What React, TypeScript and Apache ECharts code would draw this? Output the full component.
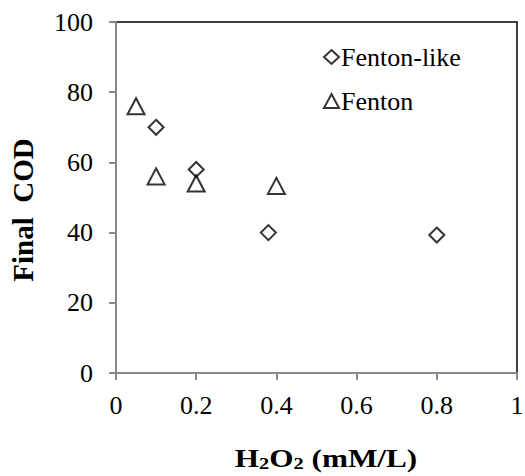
import React, { useEffect, useRef } from "react";
import * as echarts from "echarts";

const fentonLikeX = [0.1, 0.2, 0.38, 0.8];
const fentonLikeY = [70, 58, 40, 39.3];
const fentonX = [0.05, 0.1, 0.2, 0.4];
const fentonY = [76, 56, 54, 53.3];
const seriesNames = ["Fenton-like", "Fenton"];
const xTicks = [0, 0.2, 0.4, 0.6, 0.8, 1];
const yTicks = [0, 20, 40, 60, 80, 100];
const xTitle = "{b|H}{s|2}{b|O}{s|2}{b| (mM/L)}";
const yTitle = "Final  COD";

const FONT = "Liberation Serif";

export default function App() {
  const ref = useRef<HTMLDivElement>(null);
  useEffect(() => {
    if (!ref.current) return;
    const chart = echarts.init(ref.current, undefined, { renderer: "svg" });
    const pair = (xs: number[], ys: number[]) => xs.map((x, i) => [x, ys[i]]);
    chart.setOption({
      animation: false,
      backgroundColor: "#fff",
      textStyle: { fontFamily: FONT },
      grid: {
        left: 116,
        top: 22,
        right: 8,
        bottom: 103,
        show: true,
        containLabel: false,
        outerBoundsMode: "none",
        borderColor: "#000",
        borderWidth: 1.5,
      },
      legend: {
        orient: "vertical",
        left: 318,
        top: 39,
        itemWidth: 15,
        itemHeight: 14,
        itemGap: 18,
        textStyle: { fontFamily: FONT, fontSize: 26, color: "#000", padding: [0, 0, 0, -3] },
        data: seriesNames,
      },
      xAxis: {
        type: "value",
        min: xTicks[0],
        max: xTicks[xTicks.length - 1],
        interval: 0.2,
        splitLine: { show: false },
        axisLine: { show: true, onZero: false, lineStyle: { color: "#888", width: 2 } },
        axisTick: { show: true, length: 7, lineStyle: { color: "#888", width: 2 } },
        axisLabel: {
          fontFamily: FONT,
          fontSize: 26,
          color: "#000",
          margin: 19,
          formatter: (v: number) => String(Math.round(v * 10) / 10),
        },
      },
      yAxis: {
        type: "value",
        min: yTicks[0],
        max: yTicks[yTicks.length - 1],
        interval: 20,
        splitLine: { show: false },
        axisLine: { show: true, onZero: false, lineStyle: { color: "#888", width: 2 } },
        axisTick: { show: true, length: 7, lineStyle: { color: "#888", width: 2 } },
        axisLabel: { fontFamily: FONT, fontSize: 26, color: "#000", margin: 23 },
      },
      graphic: [
        {
          type: "text",
          x: 326,
          y: 458,
          scaleX: 1.2,
          style: {
            text: xTitle,
            align: "center",
            verticalAlign: "middle",
            rich: {
              b: { fontFamily: FONT, fontSize: 26, fontWeight: "bold", fill: "#000", lineHeight: 28, verticalAlign: "middle" },
              s: { fontFamily: FONT, fontSize: 17, fontWeight: "bold", fill: "#000", lineHeight: 16, verticalAlign: "bottom" },
            },
          },
        },
        {
          type: "text",
          x: 23,
          y: 210,
          rotation: Math.PI / 2,
          style: {
            text: yTitle,
            align: "center",
            verticalAlign: "middle",
            fontFamily: FONT,
            fontSize: 29,
            fontWeight: "bold",
            fill: "#000",
          },
        },
      ],
      series: [
        {
          name: seriesNames[0],
          type: "scatter",
          symbol: "diamond",
          symbolSize: 15,
          data: pair(fentonLikeX, fentonLikeY),
          itemStyle: { color: "rgba(255,255,255,0)", borderColor: "#000", borderWidth: 2 },
        },
        {
          name: seriesNames[1],
          type: "scatter",
          symbol: "triangle",
          symbolSize: [17, 16],
          data: pair(fentonX, fentonY),
          itemStyle: { color: "rgba(255,255,255,0)", borderColor: "#000", borderWidth: 2 },
        },
      ],
    });
    return () => chart.dispose();
  }, []);
  return (
    <div
      ref={ref}
      style={{ position: "absolute", left: 0, top: 0, width: 525, height: 476 }}
    />
  );
}
